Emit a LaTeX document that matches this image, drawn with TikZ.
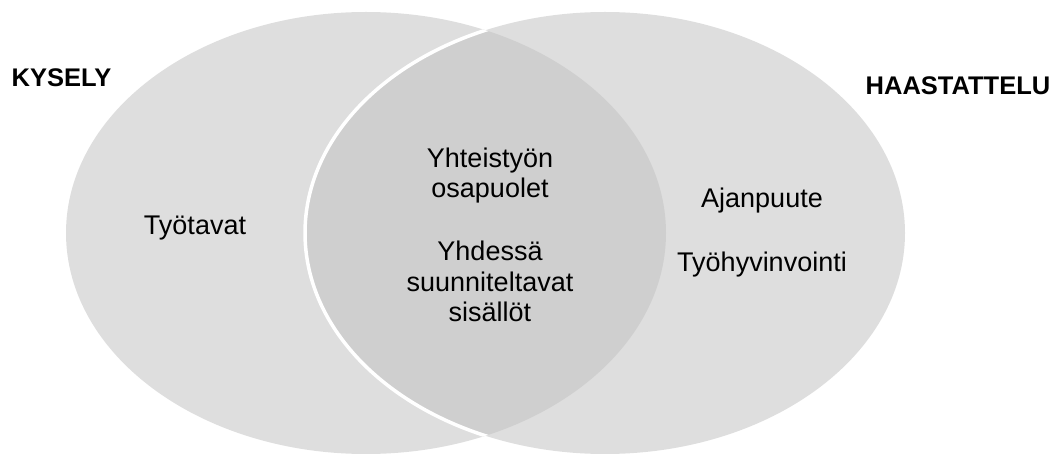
\documentclass[tikz,border=0pt]{standalone}
\usepackage{fontspec}
\setmainfont{Liberation Sans}
\definecolor{light}{HTML}{DEDEDE}
\definecolor{dark}{HTML}{CFCFCF}
\begin{document}
\begin{tikzpicture}[x=1pt,y=-1pt,
  lbl/.style={inner sep=0pt,anchor=base,align=center,font=\fontsize{27}{30.5}\selectfont},
  ttl/.style={inner sep=0pt,anchor=base,font=\fontsize{25.5}{30}\selectfont\bfseries}]
\useasboundingbox (0,0) rectangle (1063,454);
\coordinate (cl) at (366,233);
\coordinate (cr) at (605,233);
\fill[light] (cl) ellipse [x radius=300, y radius=221];
\fill[light] (cr) ellipse [x radius=300, y radius=221];
\begin{scope}
  \clip (cl) ellipse [x radius=300, y radius=221];
  \fill[dark] (cr) ellipse [x radius=300, y radius=221];
\end{scope}
\begin{scope}
  \clip (cl) ellipse [x radius=300, y radius=221];
  \draw[white,line width=3.5pt] (cr) ellipse [x radius=300, y radius=221];
\end{scope}
\node[ttl] (kysely) at (61.5,87) {KYSELY};
\node[ttl] (haast) at (958,95) {HAASTATTELU};
\node[lbl] (tyotavat) at (195,235) {Työtavat};
\node[lbl] (yht) at (490,198) {Yhteistyön\\osapuolet};
\node[lbl] (yhd) at (490,322) {Yhdessä\\suunniteltavat\\sisällöt};
\node[lbl] (ajan) at (762,208) {Ajanpuute};
\node[lbl] (tyoh) at (762,272) {Työhyvinvointi};
\end{tikzpicture}
\end{document}
